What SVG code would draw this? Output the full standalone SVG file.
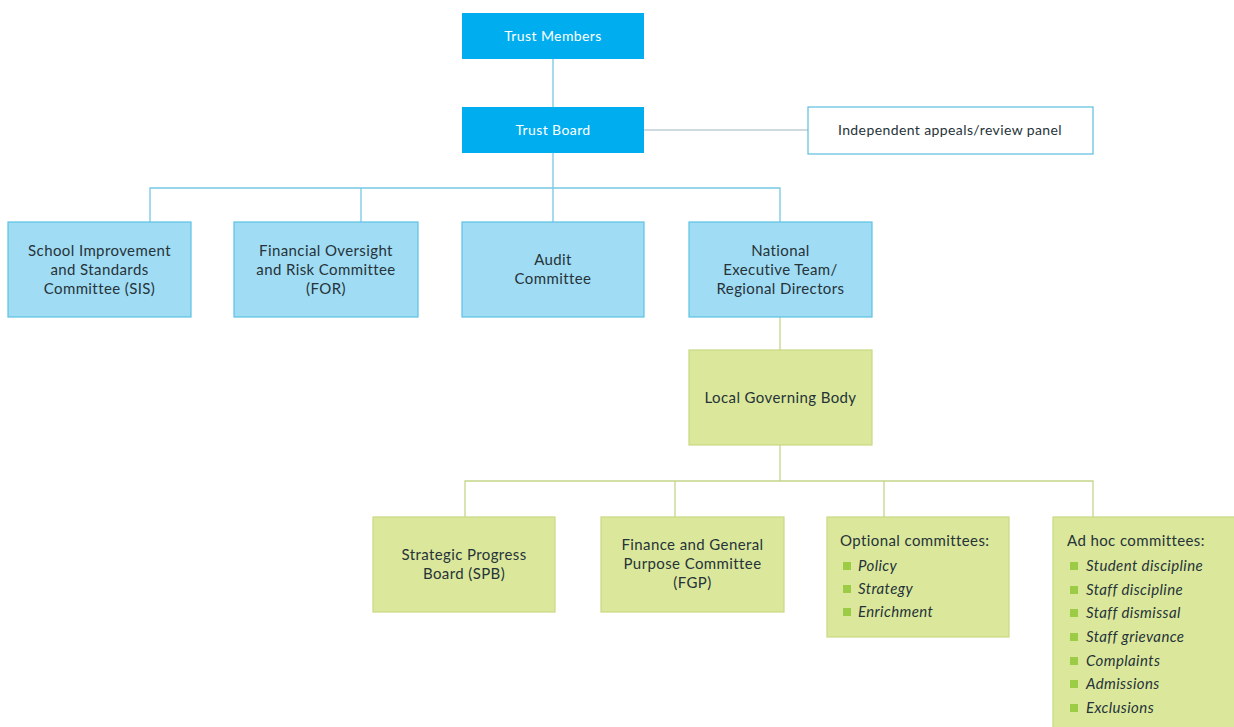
<svg xmlns="http://www.w3.org/2000/svg" width="1234" height="727" viewBox="0 0 1234 727">
<style>
text{font-family:"Lato","Open Sans","Liberation Sans",sans-serif;font-size:15px;letter-spacing:0.4px;fill:#263338;}
.c{text-anchor:middle;}
.w{fill:#fff;}
.s{font-size:14px;}
.i{font-style:italic;}
.top{fill:#00aeef;}
.lb{fill:#a0dcf4;stroke:#5cc2e3;stroke-width:1.2;}
.pn{fill:#fff;stroke:#5cbde0;stroke-width:1.2;}
.gr{fill:#dbe89c;stroke:#c6d982;stroke-width:1.2;}
.bl{fill:#9ccc45;}
.cb{fill:none;stroke:#76c8e4;stroke-width:1.3;}
.cg{fill:none;stroke:#c4d68c;stroke-width:1.3;}
.cgy{fill:none;stroke:#9fb7c2;stroke-width:1.2;}
</style>
<rect width="1234" height="727" fill="#fff"/>
<g id="connectors">
<path class="cb" d="M553,59V107"/>
<path class="cgy" d="M644,130H808"/>
<path class="cb" d="M553,153V188M150,222V188H780V222M361,188V222M553,188V222"/>
<path class="cg" d="M780,317V350M780,445V481M465,517V481H1093V517M675,481V517M884,481V517"/>
</g>
<g id="trust-members"><rect class="top" x="462" y="13" width="182" height="46"/><text class="c w s" x="553" y="41">Trust Members</text></g>
<g id="trust-board"><rect class="top" x="462" y="107" width="182" height="46"/><text class="c w s" x="553" y="135">Trust Board</text></g>
<g id="panel"><rect class="pn" x="808" y="107" width="285" height="47"/><text class="c s" x="950" y="135">Independent appeals/review panel</text></g>
<g id="sis"><rect class="lb" x="8" y="222" width="183" height="95"/><text class="c" x="99.5" y="255.5">School Improvement</text><text class="c" x="99.5" y="274.5">and Standards</text><text class="c" x="99.5" y="293.5">Committee (SIS)</text></g>
<g id="for"><rect class="lb" x="234" y="222" width="184" height="95"/><text class="c" x="326" y="255.5">Financial Oversight</text><text class="c" x="326" y="274.5">and Risk Committee</text><text class="c" x="326" y="293.5">(FOR)</text></g>
<g id="audit"><rect class="lb" x="462" y="222" width="182" height="95"/><text class="c" x="553" y="265">Audit</text><text class="c" x="553" y="284">Committee</text></g>
<g id="national"><rect class="lb" x="689" y="222" width="183" height="95"/><text class="c" x="780.5" y="255.5">National</text><text class="c" x="780.5" y="274.5">Executive Team/</text><text class="c" x="780.5" y="293.5">Regional Directors</text></g>
<g id="lgb"><rect class="gr" x="689" y="350" width="183" height="95"/><text class="c" x="780.5" y="403">Local Governing Body</text></g>
<g id="spb"><rect class="gr" x="373" y="517" width="182" height="95"/><text class="c" x="464" y="560">Strategic Progress</text><text class="c" x="464" y="579">Board (SPB)</text></g>
<g id="fgp"><rect class="gr" x="601" y="517" width="183" height="95"/><text class="c" x="692.5" y="550">Finance and General</text><text class="c" x="692.5" y="569">Purpose Committee</text><text class="c" x="692.5" y="588">(FGP)</text></g>
<g id="optional"><rect class="gr" x="827" y="517" width="182" height="120"/>
<text x="840" y="546">Optional committees:</text>
<rect class="bl" x="843" y="562" width="8" height="8"/><text class="i" x="858" y="571">Policy</text>
<rect class="bl" x="843" y="585" width="8" height="8"/><text class="i" x="858" y="594">Strategy</text>
<rect class="bl" x="843" y="608" width="8" height="8"/><text class="i" x="858" y="617">Enrichment</text>
</g>
<g id="adhoc"><rect class="gr" x="1053" y="517" width="182" height="212"/>
<text x="1067" y="546">Ad hoc committees:</text>
<rect class="bl" x="1070" y="562" width="8" height="8"/><text class="i" x="1086" y="571">Student discipline</text>
<rect class="bl" x="1070" y="586" width="8" height="8"/><text class="i" x="1086" y="595">Staff discipline</text>
<rect class="bl" x="1070" y="609" width="8" height="8"/><text class="i" x="1086" y="618">Staff dismissal</text>
<rect class="bl" x="1070" y="633" width="8" height="8"/><text class="i" x="1086" y="642">Staff grievance</text>
<rect class="bl" x="1070" y="657" width="8" height="8"/><text class="i" x="1086" y="666">Complaints</text>
<rect class="bl" x="1070" y="680" width="8" height="8"/><text class="i" x="1086" y="689">Admissions</text>
<rect class="bl" x="1070" y="704" width="8" height="8"/><text class="i" x="1086" y="713">Exclusions</text>
</g>
</svg>
